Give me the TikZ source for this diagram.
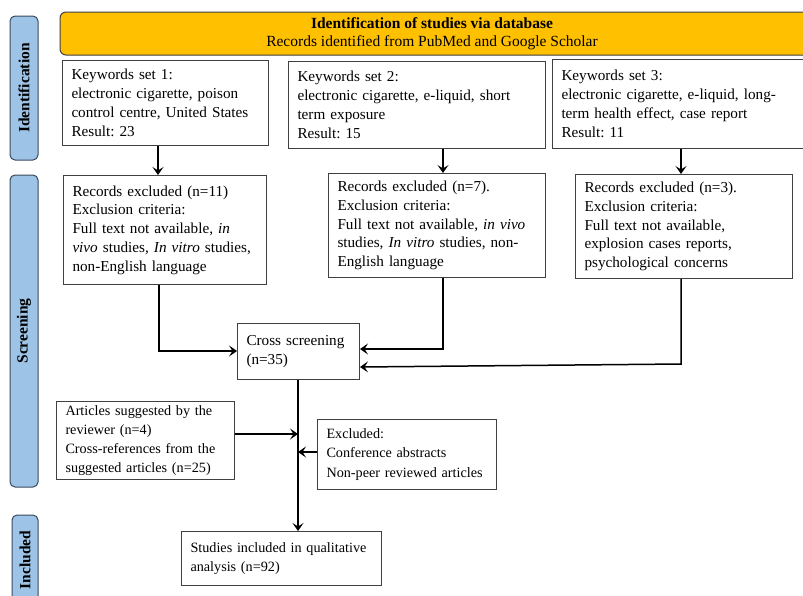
\documentclass[tikz,border=0pt]{standalone}
\usepackage{fontspec}
\setmainfont{Liberation Serif}
\usetikzlibrary{arrows.meta}
\definecolor{barblue}{HTML}{9DC3E6}
\definecolor{barline}{HTML}{3A4A5C}
\definecolor{gold}{HTML}{FFC000}
\definecolor{boxline}{HTML}{404040}
\frenchspacing
\hyphenpenalty=10000
\tikzset{
  box/.style={draw=boxline, line width=1pt, fill=white, anchor=north west, align=left,
    inner xsep=9pt, inner ysep=2pt, font=\fontsize{15.2}{18.8}\selectfont},
  smallfont/.style={font=\fontsize{14.2}{19.2}\selectfont},
  sidebar/.style={draw=barline, line width=1pt, fill=barblue, rounded corners=5pt},
  sidelabel/.style={rotate=90, font=\bfseries\fontsize{15.5}{17}\selectfont},
  flow/.style={line width=1.5pt, -{Stealth[length=8pt,width=11pt,inset=3.5pt]}},
  plain/.style={line width=1.5pt}
}
\newcommand{\bx}[7][]{\node[box, #1, minimum width=#5pt, minimum height=#6pt, text width=#5pt-18pt] (#2) at (#3,#4) {#7};}
\begin{document}
\begin{tikzpicture}[x=1pt,y=-1pt]
\clip (0,0) rectangle (803,595);
\fill[white] (0,0) rectangle (803,595);
% side bars
\draw[sidebar] (10,16) rectangle (38,160);
\node[sidelabel] (lid) at (24,88) {Identification};
\draw[sidebar] (10,175) rectangle (38,487);
\node[sidelabel] (lsc) at (24,331) {Screening};
\draw[sidebar] (12,515) rectangle (38,620);
\node[sidelabel] (lin) at (25,560) {Included};
% banner
\draw[draw=boxline, line width=1pt, fill=gold, rounded corners=6pt] (60,12) rectangle (815,55);
\node[align=center, font=\fontsize{15.5}{18}\selectfont] (banner) at (432,33.5)
  {\textbf{Identification of studies via database}\\Records identified from PubMed and Google Scholar};
% keyword boxes
\bx{ks1}{62}{60}{206}{85}{Keywords set 1:\\electronic cigarette, poison\\control centre, United States\\Result: 23}
\bx{ks2}{288}{61}{257}{87}{Keywords set 2:\\electronic cigarette, e-liquid, short\\term exposure\\Result: 15}
\bx{ks3}{552}{59}{256}{89}{Keywords set 3:\\electronic cigarette, e-liquid, long-\\term health effect, case report\\Result: 11}
% records excluded
\bx{re1}{63}{175}{203}{109}{Records excluded (n=11)\\Exclusion criteria:\\Full text not available, \textit{in}\\\textit{vivo} studies, \textit{In vitro} studies,\\non-English language}
\bx{re2}{328}{173}{217}{104}{Records excluded (n=7).\\Exclusion criteria:\\Full text not available, \textit{in vivo}\\studies, \textit{In vitro} studies, non-\\English language}
\bx{re3}{575}{174}{217}{104}{Records excluded (n=3).\\Exclusion criteria:\\Full text not available,\\explosion cases reports,\\psychological concerns}
% cross screening
\bx{cs}{237}{323}{122}{56}{Cross screening\\(n=35)}
% side boxes
\bx[smallfont, inner xsep=8pt]{art}{56}{401}{178}{78}{Articles suggested by the\\reviewer (n=4)\\Cross-references from the\\suggested articles (n=25)}
\bx[smallfont]{exc}{317}{419}{179}{70}{Excluded:\\Conference abstracts\\Non-peer reviewed articles}
\bx[smallfont]{inc}{181}{531}{200}{54}{Studies included in qualitative\\analysis (n=92)}
% connectors
\draw[flow] (ks1.south -| 158,0) -- (re1.north -| 158,0);
\draw[flow] (ks2.south -| 443,0) -- (re2.north -| 443,0);
\draw[flow] (ks3.south -| 681,0) -- (re3.north -| 681,0);
\coordinate (c1) at (159,351);
\coordinate (c2) at (443,349);
\coordinate (c3) at (681,364);
\draw[flow] (re1.south -| c1) -- (c1) -- (c1 -| cs.west);
\draw[flow] (re2.south -| c2) -- (c2) -- (c2 -| cs.east);
\draw[flow] (re3.south -| c3) -- (c3) -- (cs.east |- 0,367);
\coordinate (m1) at (298,434);
\coordinate (m2) at (298,452);
\draw[flow] (cs.south -| 298,0) -- (inc.north -| 298,0);
\draw[flow] (art.east |- m1) -- (m1);
\draw[flow] (exc.west |- m2) -- (m2);
\end{tikzpicture}
\end{document}
